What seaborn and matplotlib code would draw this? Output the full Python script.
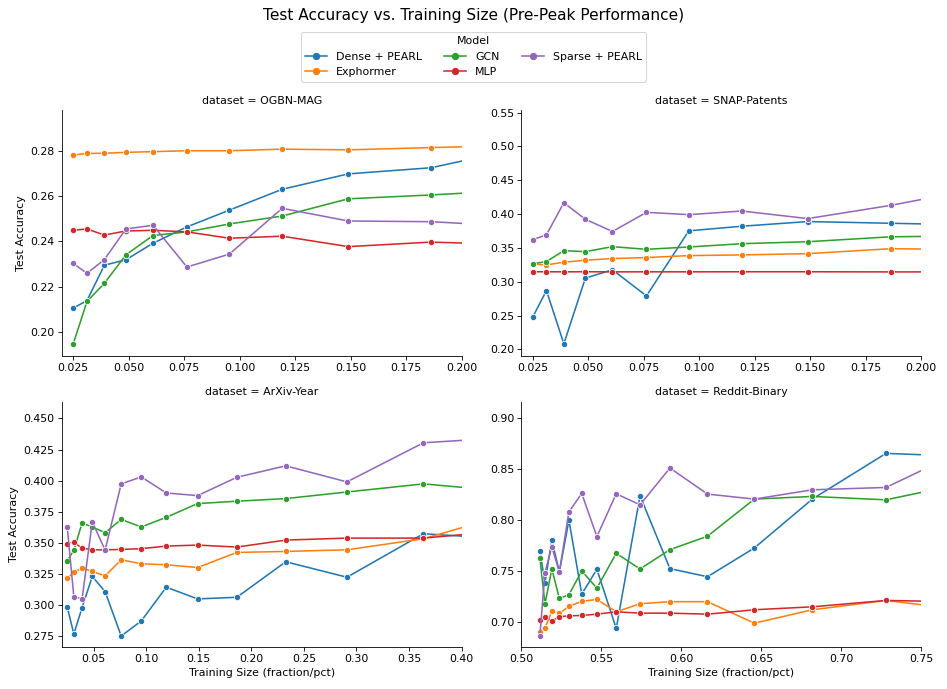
import matplotlib
matplotlib.use("Agg")
import matplotlib.pyplot as plt
import pandas as pd
import seaborn as sns

# ---------------- data ----------------
models = ["Dense + PEARL", "Exphormer", "GCN", "MLP", "Sparse + PEARL"]
datasets = ["OGBN-MAG", "SNAP-Patents", "ArXiv-Year", "Reddit-Binary"]

x_ogbn = [0.025, 0.03125, 0.0391, 0.0488, 0.061, 0.0763, 0.0954, 0.1192, 0.149, 0.1863, 0.2328]
x_snap = [0.025, 0.03125, 0.0391, 0.0488, 0.061, 0.0763, 0.0954, 0.1192, 0.149, 0.1863, 0.2328]
x_arxiv = [0.025, 0.03125, 0.0391, 0.0488, 0.061, 0.0763, 0.0954, 0.1192, 0.149, 0.1863,
           0.2328, 0.291, 0.3638, 0.4547]
x_reddit = [0.5115, 0.5147, 0.519, 0.5237, 0.5297, 0.5377, 0.5472, 0.5593, 0.5742, 0.5929,
            0.6164, 0.6457, 0.682, 0.7281, 0.785]

ogbn_dense = [0.2105, 0.2139, 0.2295, 0.2319, 0.2392, 0.2464, 0.2538, 0.2630, 0.2698, 0.2725, 0.2824]
ogbn_exph = [0.2781, 0.2788, 0.2789, 0.2793, 0.2796, 0.2800, 0.2800, 0.2807, 0.2804, 0.2814, 0.2825]
ogbn_gcn = [0.1946, 0.2135, 0.2215, 0.2341, 0.2426, 0.2442, 0.2477, 0.2512, 0.2588, 0.2605, 0.2630]
ogbn_mlp = [0.2449, 0.2455, 0.2428, 0.2446, 0.2449, 0.2442, 0.2414, 0.2423, 0.2377, 0.2397, 0.2383]
ogbn_sparse = [0.2304, 0.2259, 0.2320, 0.2455, 0.2471, 0.2287, 0.2344, 0.2546, 0.2490, 0.2487, 0.2462]

snap_dense = [0.2474, 0.2870, 0.2084, 0.3055, 0.3177, 0.2791, 0.3753, 0.3821, 0.3890, 0.3865, 0.3833]
snap_exph = [0.3260, 0.3250, 0.3289, 0.3319, 0.3343, 0.3358, 0.3387, 0.3397, 0.3416, 0.3489, 0.3472]
snap_gcn = [0.3265, 0.3299, 0.3460, 0.3446, 0.3519, 0.3480, 0.3514, 0.3563, 0.3592, 0.3665, 0.3682]
snap_mlp = [0.3148, 0.3148, 0.3147, 0.3148, 0.3147, 0.3147, 0.3147, 0.3148, 0.3148, 0.3146, 0.3146]
snap_sparse = [0.3621, 0.3694, 0.4168, 0.3924, 0.3743, 0.4026, 0.3992, 0.4046, 0.3934, 0.4129, 0.4421]

arxiv_dense = [0.2986, 0.2769, 0.2981, 0.3231, 0.3110, 0.2753, 0.2874, 0.3145, 0.3051, 0.3064,
               0.3349, 0.3225, 0.3574, 0.3526]
arxiv_exph = [0.3217, 0.3263, 0.3300, 0.3271, 0.3236, 0.3365, 0.3333, 0.3325, 0.3303, 0.3424,
              0.3432, 0.3445, 0.3534, 0.3755]
arxiv_gcn = [0.3359, 0.3440, 0.3660, 0.3628, 0.3582, 0.3689, 0.3628, 0.3706, 0.3816, 0.3835,
             0.3856, 0.3909, 0.3974, 0.3906]
arxiv_mlp = [0.3494, 0.3504, 0.3459, 0.3445, 0.3445, 0.3448, 0.3454, 0.3475, 0.3483, 0.3467,
             0.3523, 0.3539, 0.3539, 0.3607]
arxiv_sparse = [0.3625, 0.3070, 0.3051, 0.3668, 0.3443, 0.3974, 0.4030, 0.3901, 0.3880, 0.4027,
                0.4119, 0.3990, 0.4304, 0.4352]

reddit_dense = [0.7702, 0.7389, 0.7807, 0.7493, 0.8000, 0.7277, 0.7519, 0.6941, 0.8238, 0.7526,
                0.7447, 0.7728, 0.8206, 0.8653, 0.8619]
reddit_exph = [0.6902, 0.6947, 0.7108, 0.7088, 0.7157, 0.7206, 0.7225, 0.7104, 0.7183, 0.7203,
               0.7203, 0.6993, 0.7124, 0.7215, 0.7107]
reddit_gcn = [0.7634, 0.7179, 0.7523, 0.7235, 0.7271, 0.7503, 0.7336, 0.7676, 0.7523, 0.7712,
              0.7843, 0.8206, 0.8232, 0.8199, 0.8386]
reddit_mlp = [0.7023, 0.7055, 0.7016, 0.7055, 0.7065, 0.7068, 0.7081, 0.7104, 0.7091, 0.7091,
              0.7081, 0.7124, 0.7153, 0.7215, 0.7199]
reddit_sparse = [0.6866, 0.7487, 0.7741, 0.7493, 0.8081, 0.8261, 0.7840, 0.8258, 0.8150, 0.8510,
                 0.8255, 0.8206, 0.8297, 0.8320, 0.8744]

series = {
    "OGBN-MAG": (x_ogbn, [ogbn_dense, ogbn_exph, ogbn_gcn, ogbn_mlp, ogbn_sparse]),
    "SNAP-Patents": (x_snap, [snap_dense, snap_exph, snap_gcn, snap_mlp, snap_sparse]),
    "ArXiv-Year": (x_arxiv, [arxiv_dense, arxiv_exph, arxiv_gcn, arxiv_mlp, arxiv_sparse]),
    "Reddit-Binary": (x_reddit, [reddit_dense, reddit_exph, reddit_gcn, reddit_mlp, reddit_sparse]),
}

# axis view limits (layout)
xlims = {"OGBN-MAG": (0.02, 0.2), "SNAP-Patents": (0.02, 0.2),
         "ArXiv-Year": (0.02, 0.4), "Reddit-Binary": (0.5, 0.75)}
ylims = {"OGBN-MAG": (0.1895, 0.2978), "SNAP-Patents": (0.1905, 0.5533),
         "ArXiv-Year": (0.2665, 0.4635), "Reddit-Binary": (0.676, 0.916)}

rows = []
for ds in datasets:
    xs, ys_list = series[ds]
    for m, ys in zip(models, ys_list):
        for xv, yv in zip(xs, ys):
            rows.append({"dataset": ds, "Model": m,
                         "Training Size (fraction/pct)": xv, "Test Accuracy": yv})
df = pd.DataFrame(rows)

plt.rcParams["font.family"] = ["DejaVu Sans"]
plt.rcParams["font.size"] = 10.6

g = sns.relplot(
    data=df, x="Training Size (fraction/pct)", y="Test Accuracy",
    hue="Model", hue_order=models, col="dataset", col_order=datasets, col_wrap=2,
    kind="line", marker="o", facet_kws=dict(sharex=False, sharey=False),
    height=4, aspect=1.6,
)

for ax, ds in zip(g.axes.flat, datasets):
    ax.set_xlim(*xlims[ds])
    ax.set_ylim(*ylims[ds])

fig = g.figure
fig.set_dpi(75)
fig.set_size_inches(947 / 75, 689 / 75)
fig.subplots_adjust(left=62 / 947, right=921 / 947, top=1 - 110.4 / 689,
                    bottom=1 - 647 / 689, wspace=0.150, hspace=0.186)

sns.move_legend(g, "upper center", bbox_to_anchor=(0.5, 0.962), ncol=3,
                title="Model", frameon=True)
fig.suptitle("Test Accuracy vs. Training Size (Pre-Peak Performance)",
             fontsize=14.8, y=0.988)

fig.savefig("out.png", dpi=75)
